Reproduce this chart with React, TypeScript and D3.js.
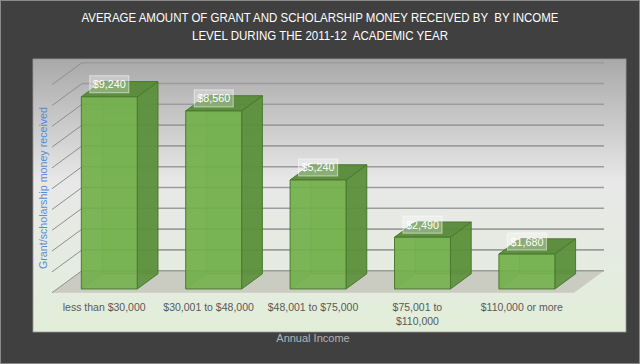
import React from 'react';
import * as d3 from 'd3';

const titleLines = [
  'AVERAGE AMOUNT OF GRANT AND SCHOLARSHIP MONEY RECEIVED BY  BY INCOME',
  'LEVEL DURING THE 2011-12  ACADEMIC YEAR',
];
const categories = [
  'less than $30,000',
  '$30,001 to $48,000',
  '$48,001 to $75,000',
  '$75,001 to $110,000',
  '$110,000 or more',
];
const categoryLines = [
  ['less than $30,000'],
  ['$30,001 to $48,000'],
  ['$48,001 to $75,000'],
  ['$75,001 to', '$110,000'],
  ['$110,000 or more'],
];
const values = [9240, 8560, 5240, 2490, 1680];
const yDomain = [0, 10000];
const yTickCount = 10;
const xTitle = 'Annual Income';
const yTitle = 'Grant/scholarship money received';

const FONT = "'Liberation Sans', Arial, sans-serif";

export default function App() {
  const W = 640;
  const H = 364;
  const DX = 30;
  const DY = -22;
  const t0 = 0.17;
  const t1 = 0.86;
  const x = d3
    .scaleBand<string>()
    .domain(categories)
    .range([52, 574])
    .paddingInner(0.464)
    .paddingOuter(0.232);
  const y = d3.scaleLinear().domain(yDomain).range([292.7, 84.7]);
  const P = (px: number, py: number, t: number): [number, number] => [px + DX * t, py + DY * t];
  const poly = (pts: [number, number][]) => pts.map((p) => p.join(',')).join(' ');
  const fmt = d3.format('$,');
  const ticks = y.ticks(yTickCount);
  const x0 = 52;
  const x1 = 574;

  const floor = poly([P(x0, y(0), 0), P(x1, y(0), 0), P(x1, y(0), 1), P(x0, y(0), 1)]);

  return (
    <svg
      width={W}
      height={H}
      style={{ position: 'absolute', left: 0, top: 0, display: 'block' }}
      fontFamily={FONT}
    >
      <defs>
        <linearGradient id="panelGrad" x1="0" y1="0" x2="0" y2="1">
          <stop offset="0" stopColor="#a9a9a9" />
          <stop offset="0.45" stopColor="#e8e8e8" />
          <stop offset="0.7" stopColor="#e6ebe2" />
          <stop offset="1" stopColor="#e2eed9" />
        </linearGradient>
      </defs>
      <rect x={0.5} y={0.5} width={W - 1} height={H - 1} fill="#404040" stroke="#8a8a8a" />
      {titleLines.map((t, i) => (
        <text
          key={i}
          x={320}
          y={22 + i * 17.5}
          textAnchor="middle"
          fill="#ffffff"
          fontSize={12.5}
          style={{ whiteSpace: 'pre' }}
          textLength={i === 0 ? 477 : 256}
          lengthAdjust="spacingAndGlyphs"
        >
          {t}
        </text>
      ))}
      <rect x={33} y={59} width={593} height={273} fill="url(#panelGrad)" stroke="#9a9a9a" strokeWidth={0.8} />
      {/* floor */}
      <polygon points={floor} fill="#cacbc1" />
      {/* gridlines */}
      {ticks.map((v) => {
        const a = P(x0, y(v), 1);
        const b = P(x1, y(v), 1);
        return (
          <g key={v}>
            <line x1={a[0]} y1={a[1]} x2={b[0]} y2={b[1]} stroke="#9c9c9c" strokeWidth={1.6} />
            <line x1={x0} y1={y(v)} x2={a[0]} y2={a[1]} stroke="#8e8e8e" strokeWidth={1} />
          </g>
        );
      })}
      {/* bars */}
      {values.map((v, i) => {
        const bx0 = x(categories[i])!;
        const bx1 = bx0 + x.bandwidth();
        const yb = y(0);
        const yt = y(v);
        const fbl = P(bx0, yb, t0);
        const fbr = P(bx1, yb, t0);
        const ftl = P(bx0, yt, t0);
        const ftr = P(bx1, yt, t0);
        const bbl = P(bx0, yb, t1);
        const bbr = P(bx1, yb, t1);
        const btl = P(bx0, yt, t1);
        const btr = P(bx1, yt, t1);
        const edge = '#4b7a30';
        const cx = (ftl[0] + ftr[0]) / 2;
        const label = fmt(v);
        return (
          <g key={i}>
            {/* back/hidden faces */}
            <polygon points={poly([bbl, bbr, btr, btl])} fill="#6aa544" opacity={0.5} />
            <polygon points={poly([fbl, bbl, btl, ftl])} fill="#5f9a3d" opacity={0.3} />
            <line x1={bbl[0]} y1={bbl[1]} x2={btl[0]} y2={btl[1]} stroke={edge} strokeOpacity={0.45} />
            <line x1={bbl[0]} y1={bbl[1]} x2={bbr[0]} y2={bbr[1]} stroke={edge} strokeOpacity={0.45} />
            <line x1={fbl[0]} y1={fbl[1]} x2={bbl[0]} y2={bbl[1]} stroke={edge} strokeOpacity={0.45} />
            {/* right side */}
            <polygon points={poly([fbr, bbr, btr, ftr])} fill="#5a8f3a" fillOpacity={0.9} stroke={edge} strokeWidth={1} strokeLinejoin="round" />
            {/* top */}
            <polygon points={poly([ftl, ftr, btr, btl])} fill="#588a39" fillOpacity={0.92} stroke={edge} strokeWidth={1} strokeLinejoin="round" />
            {/* front */}
            <polygon points={poly([fbl, fbr, ftr, ftl])} fill="#72b04a" fillOpacity={0.88} stroke={edge} strokeWidth={1} strokeLinejoin="round" />
            {/* value label */}
            <rect x={cx - 19.5} y={ftl[1] - 21} width={39} height={17} fill="#ffffff" fillOpacity={0.28} stroke="#ffffff" strokeOpacity={0.55} strokeWidth={1} />
            <text x={cx} y={ftl[1] - 8.5} textAnchor="middle" fill="#ffffff" fontSize={11.5} textLength={33} lengthAdjust="spacingAndGlyphs">
              {label}
            </text>
          </g>
        );
      })}
      {/* category labels */}
      {categories.map((c, i) => {
        const cx = x(c)! + x.bandwidth() / 2;
        return (
          <text key={c} x={cx} y={311} textAnchor="middle" fill="#595959" fontSize={10.5}>
            {categoryLines[i].map((l, j) => (
              <tspan key={j} x={cx} dy={j === 0 ? 0 : 14}>
                {l}
              </tspan>
            ))}
          </text>
        );
      })}
      <text x={313} y={342} textAnchor="middle" fill="#b4b4b4" fontSize={11}>
        {xTitle}
      </text>
      <text
        transform="translate(47,188) rotate(-90)"
        textAnchor="middle"
        fill="#5a89d6"
        fontSize={11}
        textLength={162}
        lengthAdjust="spacingAndGlyphs"
      >
        {yTitle}
      </text>
    </svg>
  );
}
